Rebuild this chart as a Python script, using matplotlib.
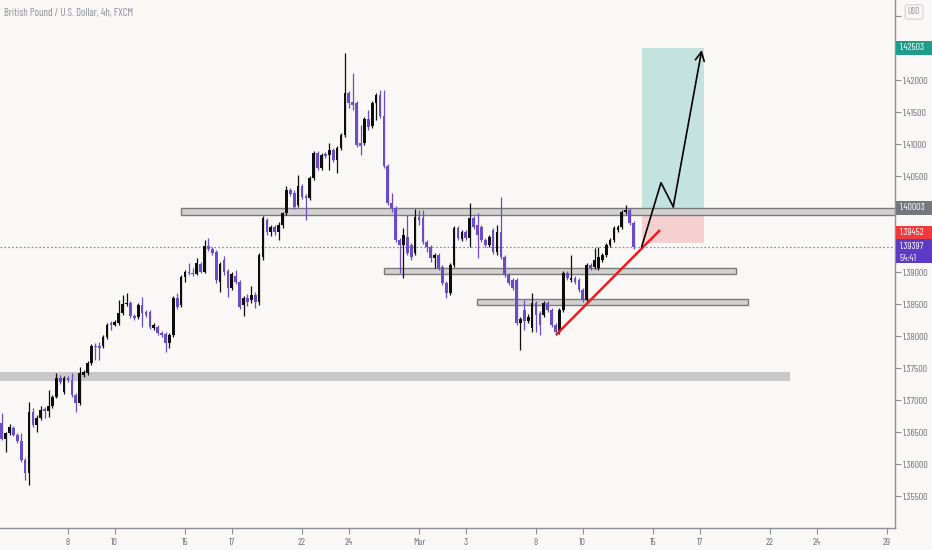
import matplotlib
matplotlib.use('Agg')
import matplotlib.pyplot as plt
from matplotlib.patches import Rectangle
from matplotlib.transforms import offset_copy
import numpy as np

# ---------------- data ----------------
opens = [
1.36641, 1.36391, 1.36484, 1.36563, 1.36453, 1.36359, 1.36063, 1.35859, 1.36813, 1.36609,
1.36719, 1.36859, 1.36828, 1.36906, 1.37047, 1.37344, 1.37125, 1.37344, 1.37313, 1.37078,
1.36953, 1.37391, 1.37422, 1.37578, 1.37844, 1.37844, 1.37844, 1.37984, 1.38203, 1.38172,
1.38203, 1.38359, 1.38500, 1.38516, 1.38313, 1.38297, 1.38484, 1.38375, 1.38375, 1.38125,
1.38141, 1.38047, 1.38031, 1.37891, 1.38016, 1.38594, 1.38484, 1.38922, 1.39000, 1.38984,
1.38969, 1.39125, 1.39000, 1.39406, 1.39359, 1.39313, 1.38844, 1.39188, 1.39016, 1.38750,
1.38938, 1.38844, 1.38484, 1.38594, 1.38563, 1.38641, 1.38531, 1.39234, 1.39813, 1.39625,
1.39703, 1.39625, 1.39734, 1.39922, 1.40281, 1.40234, 1.40047, 1.40344, 1.40188, 1.40156,
1.40469, 1.40859, 1.40625, 1.40844, 1.40828, 1.40906, 1.40750, 1.40938, 1.41141, 1.41797,
1.41656, 1.41641, 1.41016, 1.41016, 1.41391, 1.41281, 1.41641, 1.41766, 1.41438, 1.40656,
1.40078, 1.40000, 1.39500, 1.39422, 1.39547, 1.39422, 1.39297, 1.39859, 1.39844, 1.39469,
1.39391, 1.39219, 1.39266, 1.39078, 1.38828, 1.38672, 1.39109, 1.39688, 1.39516, 1.39625,
1.39531, 1.39844, 1.39734, 1.39703, 1.39500, 1.39422, 1.39656, 1.39313, 1.39625, 1.39234,
1.38953, 1.38875, 1.38875, 1.38203, 1.38406, 1.38234, 1.38125, 1.38516, 1.38359, 1.38328,
1.38516, 1.38406, 1.38172, 1.38063, 1.38406, 1.38984, 1.38875, 1.38906, 1.38875, 1.38719,
1.38563, 1.39109, 1.39078, 1.39063, 1.39188, 1.39266, 1.39422, 1.39500, 1.39656, 1.39703,
1.39938, 1.39969, 1.39766]
closes = [
1.36391, 1.36484, 1.36578, 1.36453, 1.36359, 1.36063, 1.35859, 1.36813, 1.36609, 1.36719,
1.36844, 1.36828, 1.36906, 1.37047, 1.37344, 1.37281, 1.37344, 1.37313, 1.37078, 1.36953,
1.37422, 1.37438, 1.37578, 1.37844, 1.37828, 1.37813, 1.37984, 1.38172, 1.38172, 1.38219,
1.38359, 1.38500, 1.38516, 1.38313, 1.38281, 1.38484, 1.38359, 1.38328, 1.38141, 1.38172,
1.38047, 1.38016, 1.37891, 1.38016, 1.38594, 1.38453, 1.38922, 1.39000, 1.38984, 1.38969,
1.39141, 1.39000, 1.39406, 1.39359, 1.39297, 1.38875, 1.39125, 1.39000, 1.38750, 1.38969,
1.38844, 1.38453, 1.38594, 1.38531, 1.38641, 1.38531, 1.39266, 1.39844, 1.39625, 1.39703,
1.39625, 1.39734, 1.39922, 1.40281, 1.40219, 1.40016, 1.40344, 1.40172, 1.40156, 1.40469,
1.40859, 1.40625, 1.40828, 1.40813, 1.40906, 1.40750, 1.40938, 1.41141, 1.41797, 1.41641,
1.41609, 1.40984, 1.40969, 1.41391, 1.41266, 1.41641, 1.41766, 1.41438, 1.40656, 1.40078,
1.40000, 1.39500, 1.39422, 1.39578, 1.39297, 1.39234, 1.39859, 1.39813, 1.39469, 1.39391,
1.39219, 1.39266, 1.39063, 1.38828, 1.38672, 1.39109, 1.39688, 1.39531, 1.39625, 1.39531,
1.39844, 1.39703, 1.39578, 1.39500, 1.39422, 1.39547, 1.39313, 1.39625, 1.39234, 1.38953,
1.38828, 1.38750, 1.38203, 1.38266, 1.38234, 1.38297, 1.38516, 1.38328, 1.38172, 1.38516,
1.38406, 1.38172, 1.38063, 1.38406, 1.38984, 1.38906, 1.38906, 1.38844, 1.38719, 1.38563,
1.39109, 1.39063, 1.39188, 1.39234, 1.39266, 1.39422, 1.39500, 1.39688, 1.39703, 1.39938,
1.39969, 1.39766, 1.39397]
highs = [
1.36797, 1.36500, 1.36625, 1.36594, 1.36484, 1.36484, 1.36094, 1.36969, 1.36875, 1.36766,
1.36906, 1.36891, 1.37156, 1.37078, 1.37422, 1.37391, 1.37375, 1.37375, 1.37422, 1.37109,
1.37516, 1.37469, 1.37609, 1.37875, 1.37891, 1.37906, 1.38016, 1.38203, 1.38234, 1.38250,
1.38563, 1.38641, 1.38672, 1.38547, 1.38344, 1.38516, 1.38609, 1.38406, 1.38406, 1.38203,
1.38172, 1.38078, 1.38063, 1.38047, 1.38625, 1.38672, 1.38953, 1.39031, 1.39141, 1.39063,
1.39219, 1.39156, 1.39500, 1.39531, 1.39391, 1.39344, 1.39156, 1.39250, 1.39047, 1.39000,
1.39031, 1.38875, 1.38625, 1.38656, 1.38781, 1.38688, 1.39297, 1.39875, 1.39844, 1.39734,
1.39734, 1.39781, 1.39938, 1.40344, 1.40313, 1.40281, 1.40516, 1.40375, 1.40219, 1.40500,
1.40891, 1.40891, 1.40859, 1.40875, 1.41016, 1.40938, 1.40969, 1.41172, 1.42422, 1.41828,
1.42109, 1.41672, 1.41297, 1.41422, 1.41531, 1.41672, 1.41797, 1.41844, 1.41844, 1.40688,
1.40234, 1.40031, 1.39531, 1.39688, 1.39891, 1.39453, 1.39984, 1.39969, 1.39969, 1.39500,
1.39422, 1.39297, 1.39297, 1.39109, 1.38859, 1.39141, 1.39719, 1.39719, 1.39656, 1.39656,
1.40078, 1.39875, 1.39922, 1.39734, 1.39531, 1.39578, 1.39688, 1.39734, 1.40172, 1.39266,
1.38984, 1.38906, 1.38906, 1.38297, 1.38563, 1.38344, 1.38672, 1.38547, 1.38391, 1.38547,
1.38547, 1.38438, 1.38203, 1.38438, 1.39016, 1.39016, 1.39266, 1.38938, 1.38906, 1.38750,
1.39141, 1.39141, 1.39375, 1.39391, 1.39297, 1.39453, 1.39531, 1.39719, 1.39734, 1.39969,
1.40047, 1.40000, 1.39797]
lows = [
1.36375, 1.36188, 1.36453, 1.36438, 1.36328, 1.36031, 1.35750, 1.35672, 1.36578, 1.36500,
1.36688, 1.36719, 1.36734, 1.36875, 1.37031, 1.37250, 1.37094, 1.37281, 1.37047, 1.36813,
1.36922, 1.37359, 1.37391, 1.37547, 1.37625, 1.37625, 1.37813, 1.37953, 1.38094, 1.38156,
1.38172, 1.38328, 1.38469, 1.38281, 1.38250, 1.38266, 1.38141, 1.38297, 1.38109, 1.38094,
1.38016, 1.37984, 1.37750, 1.37813, 1.37984, 1.38422, 1.38453, 1.38844, 1.38953, 1.38938,
1.38953, 1.38984, 1.38984, 1.39328, 1.39266, 1.38828, 1.38688, 1.38953, 1.38609, 1.38719,
1.38813, 1.38422, 1.38313, 1.38469, 1.38516, 1.38438, 1.38484, 1.39188, 1.39578, 1.39563,
1.39578, 1.39500, 1.39688, 1.39891, 1.40188, 1.39984, 1.40016, 1.40141, 1.39813, 1.40125,
1.40438, 1.40594, 1.40594, 1.40781, 1.40594, 1.40719, 1.40547, 1.40906, 1.41109, 1.41563,
1.41531, 1.40953, 1.40828, 1.40984, 1.41219, 1.41250, 1.41375, 1.41406, 1.40625, 1.40047,
1.39938, 1.39469, 1.38984, 1.38906, 1.39266, 1.39188, 1.39266, 1.39734, 1.39438, 1.39313,
1.39156, 1.39063, 1.39031, 1.38797, 1.38594, 1.38641, 1.39078, 1.39500, 1.39484, 1.39500,
1.39391, 1.39672, 1.39219, 1.39469, 1.39391, 1.39391, 1.39281, 1.39266, 1.39203, 1.38922,
1.38797, 1.38719, 1.38172, 1.37781, 1.38094, 1.38203, 1.38063, 1.38063, 1.38016, 1.38297,
1.38375, 1.38141, 1.38016, 1.38031, 1.38375, 1.38875, 1.38844, 1.38813, 1.38688, 1.38531,
1.38531, 1.39031, 1.39047, 1.39031, 1.39156, 1.39234, 1.39391, 1.39469, 1.39625, 1.39672,
1.39906, 1.39734, 1.39359]

title = "British Pound / U.S. Dollar, 4h, FXCM"
first_day_bar = 17          # bar index of the first 4h bar of Feb 8
bars_per_day = 6
date_labels = ['8', '10', '15', '17', '22', '24', 'Mar', '3', '8', '10', '15', '17', '22', '24', '29']
date_day_offsets = [0, 2, 5, 7, 10, 12, 15, 17, 20, 22, 25, 27, 30, 32, 35]   # trading days after Feb 8
price_ticks = [1.355, 1.360, 1.365, 1.370, 1.375, 1.380, 1.385, 1.390,
               1.395, 1.400, 1.405, 1.410, 1.415, 1.420, 1.425, 1.430]
hidden_tick_labels = [1.395, 1.400, 1.425, 1.430]   # covered by price tags in the chart

# drawings (bar index, price)
zones = [(46.1, 260.0, 1.40000, 1.39886),
         (98.0, 188.2, 1.39058, 1.38964),
         (121.95, 191.3, 1.38578, 1.38480)]
band = (-10.0, 202.1, 1.37438, 1.37297)
trend_bars = [142.1, 168.8]
trend_prices = [1.38016, 1.39656]
path_bars = [164.1, 169.05, 172.2, 179.5]
path_prices = [1.39395, 1.40395, 1.40020, 1.42469]
pos_start, pos_end = 164.1, 180.1
entry_price, stop_price, target_price = 1.40003, 1.39452, 1.42503
last_price = 1.39397
countdown = "54:41"

# ---------------- style ----------------
BG = '#faf7f7'
UP = '#0d0d0d'
DOWN = '#6a4cc6'
TXT = '#6d6f78'
FONT = ['Barlow Condensed', 'Archivo Narrow', 'DejaVu Sans']
plt.rcParams['font.family'] = FONT

W, H = 932, 550
fig = plt.figure(figsize=(W / 100, H / 100), dpi=100, facecolor=BG)
ax_w, ax_h = 895, 528
ax = fig.add_axes([0, 22 / H, ax_w / W, ax_h / H], facecolor=BG)

x0_bar, x1_bar = -0.436, 229.05
y0, y1 = 1.35, 1.4325
ax.set_xlim(x0_bar, x1_bar)
ax.set_ylim(y0, y1)
ppu = (y1 - y0) / ax_h   # price per pixel

# band and zones
ax.add_patch(Rectangle((band[0], band[3]), band[1] - band[0], band[2] - band[3],
                       facecolor='#c9c9c9', edgecolor='none', zorder=1))
for (b0, b1, top, bot) in zones:
    ax.add_patch(Rectangle((b0, bot), b1 - b0, top - bot, facecolor='#d2d2d2',
                           edgecolor='#7a7a7a', lw=1.0, zorder=1.5))

# last price dotted line
ax.axhline(last_price, color='#8a78cf', lw=0.8, ls=(0, (1.5, 2.0)), zorder=1.2)

# position box
ax.add_patch(Rectangle((pos_start, entry_price), pos_end - pos_start, target_price - entry_price,
                       facecolor='#c5e3de', edgecolor='none', zorder=1.3))
ax.add_patch(Rectangle((pos_start, stop_price), pos_end - pos_start, entry_price - stop_price,
                       facecolor='#f6d0d0', edgecolor='none', zorder=1.3))

# candles
xs = np.arange(len(opens))
o = np.array(opens); c = np.array(closes); h = np.array(highs); l = np.array(lows)
cols = np.where(c >= o, UP, DOWN)
ax.vlines(xs, l, h, colors=cols, lw=0.9, zorder=3)
bottom = np.minimum(o, c)
height = np.maximum(np.abs(c - o), 0.00013)
ax.bar(xs, height, bottom=bottom, width=0.7, color=cols, edgecolor='none', zorder=3.1)

# red trend line
ax.plot(trend_bars, trend_prices, color='#ee1c1c', lw=1.8, solid_capstyle='butt', zorder=4)

# black path with arrow
ax.plot(path_bars[:-1], path_prices[:-1], color='black', lw=1.2, zorder=4)
ax.annotate('', xy=(path_bars[-1], path_prices[-1]), xytext=(path_bars[-2], path_prices[-2]),
            arrowprops=dict(arrowstyle='->', color='black', lw=1.2, mutation_scale=16,
                            shrinkA=0, shrinkB=0), zorder=4)

# axes styling
for s in ['top', 'left']:
    ax.spines[s].set_visible(False)
for s in ['right', 'bottom']:
    ax.spines[s].set_color('#8d8f96')
    ax.spines[s].set_linewidth(1.0)

ax.yaxis.tick_right()
ax.set_yticks(price_ticks)
ax.set_yticklabels(['' if any(abs(p - q) < 1e-9 for q in hidden_tick_labels) else f"{p:.5f}"
                    for p in price_ticks])
ax.tick_params(axis='y', direction='out', length=4, width=0.8, color='#8d8f96',
               labelsize=7.2, labelcolor=TXT, pad=2)
tick_bars = [first_day_bar + bars_per_day * d for d in date_day_offsets]
ax.set_xticks(tick_bars)
ax.set_xticklabels(date_labels)
ax.tick_params(axis='x', direction='out', length=4, width=0.8, color='#8d8f96',
               labelsize=7.2, labelcolor=TXT, pad=3)

# price labels on the axis
ytr = ax.get_yaxis_transform()
box_x = 1 + 1 / ax_w
box_w = 36 / ax_w
txt_x = 1 + 5 / ax_w

def price_label(price, lines, color, dy_px=0.0, up_px=7.0, down_px=7.0):
    tr = offset_copy(ytr, fig=fig, x=0, y=dy_px * 0.72, units='points')
    ax.add_patch(Rectangle((box_x, price - down_px * ppu), box_w, (up_px + down_px) * ppu,
                           transform=tr, facecolor=color, edgecolor='none',
                           clip_on=False, zorder=10))
    for k, t in enumerate(lines):
        ax.text(txt_x, price - k * 12 * ppu, t, transform=tr, color='white', fontsize=7.2,
                ha='left', va='center', clip_on=False, zorder=11)

price_label(target_price, [f"{target_price:.5f}"], '#1f9d8b')
price_label(entry_price, [f"{entry_price:.5f}"], '#75777f')
price_label(stop_price, [f"{stop_price:.5f}"], '#f03a3a', dy_px=10.5)
price_label(last_price, [f"{last_price:.5f}", countdown], '#5d3bc6', up_px=7.5, down_px=16.5)

# title and currency box
fig.text(4 / W, 1 - 13 / H, title, color='#8c8e96', fontsize=7.7, ha='left', va='center')
fig.text(914 / W, 1 - 12 / H, 'USD', color='#8c8e96', fontsize=6.5, ha='center', va='center',
         bbox=dict(boxstyle='round,pad=0.3,rounding_size=0.25', facecolor=BG,
                   edgecolor='#d2d2d6', lw=0.8), zorder=20)

fig.savefig('out.png', dpi=100, facecolor=BG)
